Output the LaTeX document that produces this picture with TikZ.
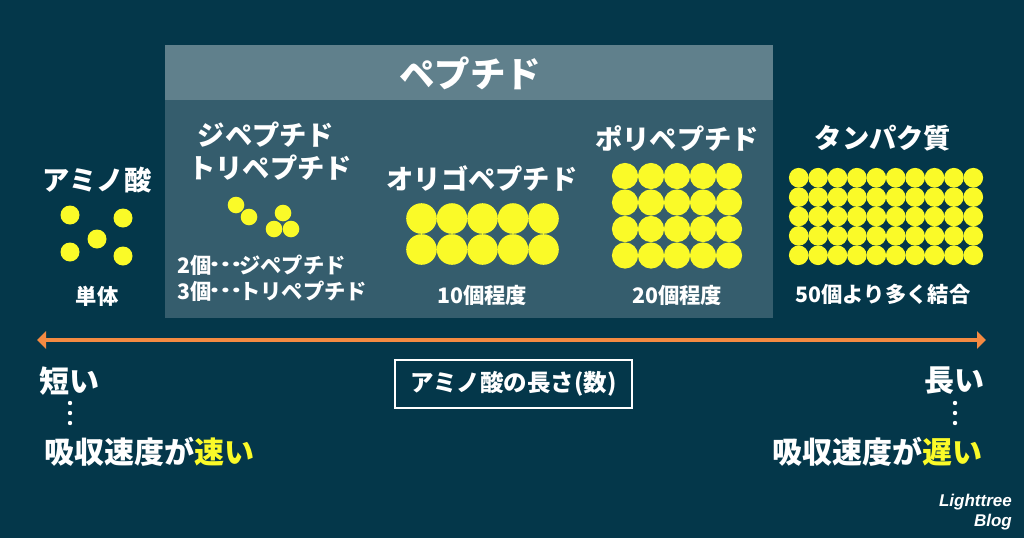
\documentclass[tikz,border=0pt]{standalone}
\usepackage{fontspec}
\setmainfont{Noto Sans CJK JP}
\newfontfamily\logofont{Liberation Sans}
\usetikzlibrary{arrows.meta}
\definecolor{bgc}{RGB}{4,55,74}
\definecolor{headc}{RGB}{96,128,140}
\definecolor{bodyc}{RGB}{53,93,109}
\definecolor{yel}{RGB}{250,250,40}
\definecolor{orn}{RGB}{245,138,66}
\newcommand{\fwell}{\makebox[1.3em][c]{\raisebox{0.3em}{\scalebox{1.35}[1]{…}}}}
\tikzset{
  lbl/.style={text=white, font=\bfseries\fontsize{27.3}{32}\selectfont, inner sep=0pt},
  sub/.style={text=white, font=\bfseries\fontsize{21.3}{26}\selectfont, inner sep=0pt},
  big/.style={text=white, font=\bfseries\fontsize{30}{34}\selectfont, inner sep=0pt},
  dot/.style={fill=yel},
}
\begin{document}
\begin{tikzpicture}[x=1pt,y=-1pt]
\fill[bgc] (0,0) rectangle (1024,538);
\useasboundingbox (0,0) rectangle (1024,538);
% peptide box
\fill[bodyc] (165,45) rectangle (773,318);
\fill[headc] (165,45) rectangle (773,100);
\node[text=white, font=\bfseries\fontsize{35.5}{40}\selectfont, inner sep=0pt] (title) at (470,73) {ペプチド};
% amino acid
\node[lbl] (amino) at (97,180) {アミノ酸};
\foreach \p in {(70,215),(123,218),(97,239),(70,252),(123,256)} \fill[dot] \p circle (9.5);
\node[sub] (single) at (97,296) {単体};
% di/tri
\node[lbl] (di) at (266,135) {ジペプチド};
\node[lbl] (tri) at (270,168) {トリペプチド};
\foreach \p in {(236,205),(249,217),(283,213),(274,229),(291,229)} \fill[dot] \p circle (8.3);
\node[sub, anchor=west] (n2) at (177,265) {2個\fwell ジペプチド};
\node[sub, anchor=west] (n3) at (177,291) {3個\fwell トリペプチド};
% oligo
\node[lbl] (oligo) at (482,178) {オリゴペプチド};
\foreach \i in {0,...,4} \foreach \j in {0,1} \fill[dot] (421.5+30.5*\i,218.5+31*\j) circle (15.3);
\node[sub] (n10) at (482,295) {10個程度};
% poly
\node[lbl] (poly) at (677,138) {ポリペプチド};
\foreach \i in {0,...,4} \foreach \j in {0,...,3} \fill[dot] (625+26*\i,176+26.5*\j) circle (13.1);
\node[sub] (n20) at (677,295) {20個程度};
% protein
\node[lbl] (prot) at (883,138) {タンパク質};
\foreach \i in {0,...,9} \foreach \j in {0,...,4} \fill[dot] (798.7+19.4*\i,177.7+19.4*\j) circle (9.8);
\node[sub] (n50) at (883,294) {50個より多く結合};
% arrow
\coordinate (aL) at (37,340);
\coordinate (aR) at (986,340);
\draw[orn, line width=4pt, {Triangle[width=17pt,length=9pt]}-{Triangle[width=17pt,length=9pt]}] (aL) -- (aR);
% bottom
\node[big, anchor=west] (short) at (39,381) {短い};
\foreach \y in {403,413,423} \fill[white] (70,\y) circle (2.2);
\node[big, anchor=west] (fast) at (44,452) {吸収速度が\textcolor{yel}{速い}};
\node[big, anchor=east] (long) at (985,381) {長い};
\foreach \y in {403,413,423} \fill[white] (955,\y) circle (2.2);
\node[big, anchor=east] (slow) at (983,452) {吸収速度が\textcolor{yel}{遅い}};
\node[draw=white, line width=2pt, text=white, font=\bfseries\fontsize{23.5}{26}\selectfont, minimum width=237pt, minimum height=48pt, inner sep=0pt] (len) at (513.5,384) {アミノ酸の長さ(数)};
% logo
\node[text=white, font=\logofont\bfseries\itshape\fontsize{17}{20}\selectfont, align=right, anchor=north east, inner sep=0pt] (logo) at (1012,494) {Lighttree\\Blog};
\end{tikzpicture}
\end{document}
